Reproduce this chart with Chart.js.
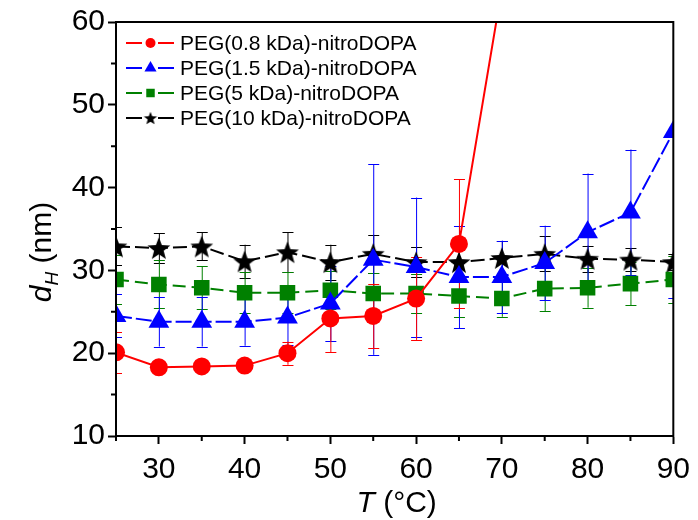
<!DOCTYPE html>
<html>
<head>
<meta charset="utf-8">
<script src="https://cdn.jsdelivr.net/npm/chart.js@4"></script>
<style>
  html, body { margin: 0; padding: 0; background: #fff; }
  #wrap { width: 698px; height: 520px; }
</style>
</head>
<body>
<div id="wrap"><canvas id="chart" width="698" height="520"></canvas></div>
<script>
// temperatures (°C)
const temps = [25, 30, 35, 40, 45, 50, 55, 60, 65, 70, 75, 80, 85, 90];

// hydrodynamic diameter d_H (nm) and error bars
const peg08 = [20.1, 18.3, 18.4, 18.5, 20.0, 24.2, 24.5, 26.6, 33.2, 64.0, null, null, null, null];
const peg08Err = [2.5, 0.5, 0.5, 0.5, 1.4, 4.1, 3.9, 5.0, 7.8, 0, null, null, null, null];

const peg15 = [24.5, 23.8, 23.8, 23.8, 24.3, 26.0, 31.3, 30.4, 29.2, 29.2, 30.9, 34.6, 37.0, 46.7];
const peg15Err = [2.6, 3.0, 3.0, 2.9, 3.3, 4.5, 11.5, 8.4, 6.2, 4.4, 4.5, 7.1, 7.6, 20.0];

const peg5 = [28.9, 28.3, 27.9, 27.3, 27.3, 27.6, 27.2, 27.2, 26.9, 26.6, 27.8, 27.9, 28.4, 28.9];
const peg5Err = [3.0, 2.9, 2.6, 2.5, 2.5, 2.3, 2.5, 2.4, 2.5, 2.2, 2.7, 2.4, 2.6, 2.8];

const peg10 = [32.9, 32.7, 32.9, 31.1, 32.2, 31.0, 32.0, 31.0, 31.0, 31.5, 32.0, 31.4, 31.3, 31.0];
const peg10Err = [2.3, 1.8, 1.7, 2.0, 2.4, 2.1, 2.3, 1.8, 1.8, 2.0, 2.1, 1.6, 1.4, 1.0];

const seriesLabels = [
    'PEG(0.8 kDa)-nitroDOPA',
    'PEG(1.5 kDa)-nitroDOPA',
    'PEG(5 kDa)-nitroDOPA',
    'PEG(10 kDa)-nitroDOPA'
];

const colors = {
    red: '#ff0000',
    blue: '#0000ff',
    green: '#008000',
    black: '#000000'
};

const FONT = "'Liberation Sans', Arial, sans-serif";

// filled five point star used as marker
function makeStar(r, color) {
    const c = document.createElement('canvas');
    const size = Math.ceil(r * 2 + 2);
    c.width = size;
    c.height = size;
    const g = c.getContext('2d');
    const cx = size / 2, cy = size / 2 + r * 0.1;
    g.beginPath();
    for (let i = 0; i < 10; i++) {
        const rr = i % 2 === 0 ? r : r * 0.42;
        const a = -Math.PI / 2 + i * Math.PI / 5;
        const px = cx + rr * Math.cos(a), py = cy + rr * Math.sin(a);
        if (i === 0) g.moveTo(px, py); else g.lineTo(px, py);
    }
    g.closePath();
    g.fillStyle = color;
    g.fill();
    return c;
}

const bigStar = makeStar(12, colors.black);
const smallStar = makeStar(7, colors.black);

const toPoints = (arr) => temps.map((t, i) => ({ x: t, y: arr[i] }));

const errorSets = [peg08Err, peg15Err, peg5Err, peg10Err];

// error bars drawn through the chart scales
const errorBars = {
    id: 'errorBars',
    beforeDatasetsDraw(chart) {
        const { ctx, chartArea, scales } = chart;
        ctx.save();
        ctx.beginPath();
        ctx.rect(chartArea.left, chartArea.top, chartArea.right - chartArea.left, chartArea.bottom - chartArea.top);
        ctx.clip();
        ctx.lineWidth = 1;
        for (let d = chart.data.datasets.length - 1; d >= 0; d--) {
            const ds = chart.data.datasets[d];
            const errs = errorSets[d];
            ctx.strokeStyle = ds.borderColor;
            ds.data.forEach((p, j) => {
                if (p.y == null || errs[j] == null || errs[j] === 0) return;
                const x = scales.x.getPixelForValue(p.x);
                const yT = scales.y.getPixelForValue(p.y + errs[j]);
                const yB = scales.y.getPixelForValue(p.y - errs[j]);
                ctx.beginPath();
                ctx.moveTo(x + 0.5, yT);
                ctx.lineTo(x + 0.5, yB);
                ctx.moveTo(x - 5, Math.round(yT) + 0.5);
                ctx.lineTo(x + 6, Math.round(yT) + 0.5);
                ctx.moveTo(x - 5, Math.round(yB) + 0.5);
                ctx.lineTo(x + 6, Math.round(yB) + 0.5);
                ctx.stroke();
            });
        }
        ctx.restore();
    }
};

// frame, minor ticks, axis titles and legend
const decorations = {
    id: 'decorations',
    afterDraw(chart) {
        const { ctx, chartArea, scales } = chart;
        const { left, right, top, bottom } = chartArea;
        ctx.save();

        // frame
        ctx.strokeStyle = '#000';
        ctx.lineWidth = 2;
        ctx.strokeRect(left, top, right - left, bottom - top);

        // minor ticks
        ctx.lineWidth = 2;
        ctx.beginPath();
        scales.x.ticks.forEach(t => {
            if (t.value % 10 !== 0) {
                const x = scales.x.getPixelForValue(t.value);
                ctx.moveTo(x, bottom);
                ctx.lineTo(x, bottom + 5);
            }
        });
        scales.y.ticks.forEach(t => {
            if (t.value % 10 !== 0) {
                const y = scales.y.getPixelForValue(t.value);
                ctx.moveTo(left, y);
                ctx.lineTo(left - 5, y);
            }
        });
        ctx.stroke();

        // x title: T (°C)
        ctx.fillStyle = '#000';
        ctx.textBaseline = 'alphabetic';
        const xt1 = 'T', xt2 = ' (°C)';
        ctx.font = 'italic 30px ' + FONT;
        const w1 = ctx.measureText(xt1).width;
        ctx.font = '30px ' + FONT;
        const w2 = ctx.measureText(xt2).width;
        let xs = (left + right) / 2 - (w1 + w2) / 2 + 2;
        const yb = 512;
        ctx.font = 'italic 30px ' + FONT;
        ctx.fillText(xt1, xs, yb);
        ctx.font = '30px ' + FONT;
        ctx.fillText(xt2, xs + w1, yb);

        // y title: d_H (nm)
        ctx.save();
        ctx.translate(51, 252);
        ctx.rotate(-Math.PI / 2);
        ctx.font = 'italic 30px ' + FONT;
        const dW = ctx.measureText('d').width;
        ctx.font = 'italic 19px ' + FONT;
        const hW = ctx.measureText('H').width;
        ctx.font = '30px ' + FONT;
        const nW = ctx.measureText(' (nm)').width;
        let sx = -(dW + hW + nW) / 2;
        ctx.font = 'italic 30px ' + FONT;
        ctx.fillText('d', sx, 0);
        ctx.font = 'italic 19px ' + FONT;
        ctx.fillText('H', sx + dW, 7);
        ctx.font = '30px ' + FONT;
        ctx.fillText(' (nm)', sx + dW + hW, 0);
        ctx.restore();

        // legend
        const rowY = [43, 68, 93, 118];
        const styles = [
            { mk: 'circle', r: 5 },
            { mk: 'triangle', r: 7 },
            { mk: 'rect', r: 6 },
            { mk: smallStar, r: 7 }
        ];
        ctx.font = '21px ' + FONT;
        ctx.textBaseline = 'middle';
        chart.data.datasets.forEach((ds, i) => {
            const y = rowY[i];
            ctx.strokeStyle = ds.borderColor;
            ctx.lineWidth = 2;
            ctx.setLineDash([]);
            ctx.beginPath();
            ctx.moveTo(126, y);
            ctx.lineTo(142, y);
            ctx.moveTo(158, y);
            ctx.lineTo(174, y);
            ctx.stroke();
            const st = styles[i];
            ctx.fillStyle = ds.backgroundColor;
            Chart.helpers.drawPoint(ctx, {
                pointStyle: st.mk,
                radius: st.r,
                rotation: 0,
                borderWidth: 0
            }, 150.5, y);
            ctx.fillStyle = '#000';
            ctx.fillText(seriesLabels[i], 180, y + 1);
        });

        ctx.restore();
    }
};

const ctx = document.getElementById('chart');

new Chart(ctx, {
    type: 'line',
    data: {
        datasets: [
            {
                label: seriesLabels[0],
                data: toPoints(peg08),
                borderColor: colors.red,
                backgroundColor: colors.red,
                borderWidth: 2,
                pointStyle: 'circle',
                pointRadius: 9,
                pointBorderWidth: 0,
                clip: 0
            },
            {
                label: seriesLabels[1],
                data: toPoints(peg15),
                borderColor: colors.blue,
                backgroundColor: colors.blue,
                borderWidth: 2,
                borderDash: [16, 4],
                pointStyle: 'triangle',
                pointRadius: 12,
                pointBorderWidth: 0,
                clip: 0
            },
            {
                label: seriesLabels[2],
                data: toPoints(peg5),
                borderColor: colors.green,
                backgroundColor: colors.green,
                borderWidth: 2,
                borderDash: [13, 6],
                pointStyle: 'rect',
                pointRadius: 11,
                pointBorderWidth: 0,
                clip: 0
            },
            {
                label: seriesLabels[3],
                data: toPoints(peg10),
                borderColor: colors.black,
                backgroundColor: colors.black,
                borderWidth: 2,
                borderDash: [14, 5],
                pointStyle: bigStar,
                pointRadius: 12,
                pointBorderWidth: 0,
                clip: 0
            }
        ]
    },
    options: {
        responsive: false,
        animation: false,
        devicePixelRatio: 1,
        layout: {
            padding: { left: 0, top: 22, right: 22, bottom: 0 }
        },
        plugins: {
            legend: { display: false },
            tooltip: { enabled: false }
        },
        scales: {
            x: {
                type: 'linear',
                min: 25,
                max: 90,
                afterFit: (scale) => { scale.height = 84; },
                border: { display: true, color: '#000', width: 2 },
                grid: {
                    drawOnChartArea: false,
                    drawTicks: true,
                    tickLength: 8,
                    tickWidth: 2,
                    tickColor: (c) => (c.tick && c.tick.value % 10 === 0) ? '#000' : 'rgba(0,0,0,0)'
                },
                ticks: {
                    stepSize: 5,
                    padding: 8,
                    color: '#000',
                    font: { family: FONT, size: 30 },
                    maxRotation: 0,
                    autoSkip: false,
                    callback: (v) => v % 10 === 0 ? String(v) : ''
                }
            },
            y: {
                type: 'linear',
                min: 10,
                max: 60,
                afterFit: (scale) => { scale.width = 116; },
                border: { display: true, color: '#000', width: 2 },
                grid: {
                    drawOnChartArea: false,
                    drawTicks: true,
                    tickLength: 8,
                    tickWidth: 2,
                    tickColor: (c) => (c.tick && c.tick.value % 10 === 0) ? '#000' : 'rgba(0,0,0,0)'
                },
                ticks: {
                    stepSize: 5,
                    padding: 3,
                    color: '#000',
                    font: { family: FONT, size: 30 },
                    autoSkip: false,
                    callback: (v) => v % 10 === 0 ? String(v) : ''
                }
            }
        }
    },
    plugins: [errorBars, decorations]
});
</script>
</body>
</html>
